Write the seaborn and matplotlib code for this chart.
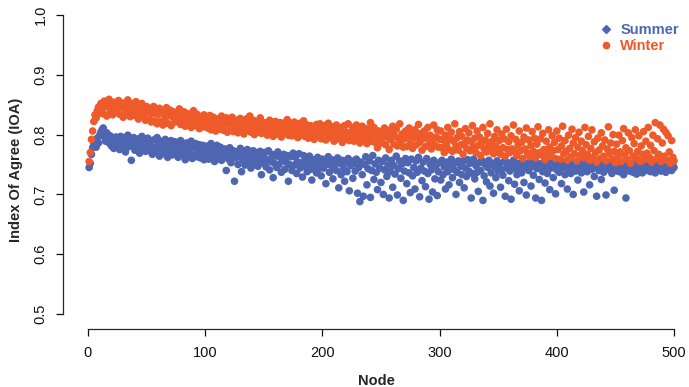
import numpy as np
import pandas as pd
import seaborn as sn
import matplotlib.pyplot as plt
from matplotlib.lines import Line2D

# index of agreement per node, in thousandths
summer_ioa = [
    745, 752, 767, 778, 784, 789, 779, 794, 786, 799, 804, 808, 811, 796, 789, 803, 792, 786, 798, 781, 793, 777, 790, 796, 780,
    792, 775, 797, 785, 778, 794, 771, 789, 799, 780, 791, 757, 783, 795, 774, 788, 779, 793, 769, 786, 797, 776, 790, 772, 784,
    794, 773, 787, 780, 767, 791, 778, 771, 795, 783, 764, 789, 775, 785, 768, 792, 779, 762, 784, 772, 790, 766, 779, 788, 770,
    784, 762, 778, 790, 767, 781, 772, 758, 786, 765, 777, 769, 789, 760, 779, 766, 785, 763, 773, 783, 761, 771, 782, 758, 776,
    766, 781, 759, 772, 785, 762, 775, 755, 770, 782, 760, 768, 779, 757, 771, 763, 776, 740, 767, 759, 778, 753, 765, 773, 722,
    761, 771, 750, 765, 777, 738, 758, 770, 749, 764, 775, 755, 767, 744, 762, 773, 750, 760, 770, 747, 758, 772, 733, 764, 752,
    770, 746, 758, 773, 741, 755, 767, 728, 752, 764, 745, 771, 750, 762, 737, 757, 767, 742, 754, 765, 722, 750, 763, 740, 769,
    749, 762, 735, 754, 768, 744, 753, 729, 765, 747, 760, 738, 752, 764, 742, 724, 758, 746, 755, 736, 762, 743, 752, 731, 759,
    744, 756, 718, 751, 763, 737, 749, 758, 726, 745, 755, 740, 761, 711, 752, 733, 757, 743, 722, 754, 738, 760, 706, 748, 756,
    727, 752, 739, 759, 702, 745, 688, 754, 733, 697, 750, 763, 716, 743, 756, 695, 740, 765, 725, 751, 737, 708, 757, 744, 720,
    755, 700, 741, 761, 730, 749, 694, 738, 757, 712, 748, 734, 764, 699, 743, 756, 727, 751, 690, 739, 760, 718, 753, 736, 703,
    759, 731, 745, 709, 756, 737, 762, 696, 744, 723, 754, 739, 713, 760, 735, 692, 750, 741, 704, 757, 726, 748, 698, 738, 753,
    724, 757, 733, 746, 709, 754, 738, 716, 749, 759, 728, 742, 753, 700, 737, 756, 720, 747, 733, 755, 711, 744, 730, 758, 739,
    752, 694, 735, 759, 726, 748, 737, 705, 753, 740, 757, 690, 731, 750, 721, 745, 757, 714, 736, 752, 702, 746, 728, 756, 739,
    751, 712, 742, 732, 755, 697, 744, 753, 723, 739, 692, 748, 757, 717, 743, 733, 752, 706, 746, 736, 756, 720, 745, 699, 751,
    740, 754, 714, 747, 732, 755, 694, 743, 752, 725, 748, 690, 738, 754, 719, 746, 735, 751, 708, 744, 756, 728, 747, 701, 741,
    752, 737, 749, 718, 745, 754, 733, 748, 709, 741, 751, 735, 747, 700, 752, 739, 749, 724, 745, 753, 736, 748, 704, 743, 751,
    738, 747, 716, 749, 742, 752, 730, 746, 697, 748, 740, 751, 725, 747, 737, 750, 699, 745, 752, 741, 748, 735, 747, 707, 740,
    749, 744, 738, 751, 743, 748, 733, 747, 694, 741, 750, 739, 746, 752, 737, 748, 743, 734, 747, 753, 741, 746, 736, 750, 744,
    740, 749, 745, 752, 738, 747, 743, 750, 736, 746, 749, 741, 752, 739, 748, 744, 750, 737, 746, 749, 741, 752, 740, 748, 745,
]

winter_ioa = [
    755, 770, 792, 806, 822, 833, 828, 840, 846, 836, 852, 843, 835, 856, 847, 831, 851, 859, 838, 849, 833, 854, 842, 850, 837,
    857, 834, 846, 853, 829, 844, 851, 838, 858, 845, 830, 852, 840, 848, 832, 855, 843, 826, 849, 836, 852, 831, 845, 824, 847,
    838, 826, 843, 821, 835, 847, 823, 839, 818, 834, 844, 822, 836, 816, 840, 827, 845, 819, 833, 841, 815, 830, 838, 821, 835,
    824, 834, 843, 817, 829, 820, 838, 814, 827, 835, 818, 831, 812, 826, 840, 815, 828, 834, 819, 810, 830, 822, 813, 833, 817,
    827, 811, 822, 832, 808, 820, 829, 814, 806, 826, 816, 823, 809, 831, 818, 807, 819, 828, 804, 817, 825, 810, 829, 805, 818,
    814, 824, 803, 817, 827, 808, 821, 801, 815, 826, 807, 819, 831, 804, 814, 824, 800, 812, 822, 806, 816, 828, 802, 811, 820,
    809, 819, 799, 812, 824, 804, 815, 797, 810, 822, 801, 813, 806, 820, 796, 809, 819, 803, 814, 825, 799, 808, 818, 798, 811,
    821, 801, 812, 795, 807, 819, 800, 810, 823, 797, 806, 816, 794, 805, 815, 799, 811, 792, 804, 817, 797, 808, 818, 793, 806,
    803, 815, 791, 805, 819, 795, 808, 799, 813, 789, 802, 816, 793, 806, 798, 812, 787, 801, 815, 792, 804, 818, 790, 803, 795,
    812, 789, 801, 816, 791, 805, 786, 799, 814, 790, 803, 810, 785, 797, 808, 820, 789, 800, 812, 787, 799, 778, 806, 793, 803,
    786, 798, 811, 783, 796, 807, 775, 792, 804, 814, 784, 797, 809, 781, 794, 818, 788, 801, 779, 793, 806, 780, 796, 811, 785,
    801, 777, 795, 808, 783, 797, 817, 787, 802, 774, 793, 806, 780, 795, 812, 784, 799, 776, 790, 816, 782, 796, 808, 779, 792,
    806, 778, 791, 770, 799, 784, 812, 775, 793, 804, 772, 789, 818, 780, 795, 774, 805, 783, 797, 767, 785, 810, 777, 791, 803,
    773, 788, 815, 779, 794, 770, 806, 782, 796, 765, 787, 812, 776, 791, 771, 802, 781, 818, 774, 789, 768, 797, 780, 808, 775,
    790, 767, 801, 778, 793, 764, 809, 775, 788, 770, 798, 776, 816, 772, 792, 765, 783, 806, 773, 787, 760, 796, 776, 811, 769,
    791, 763, 782, 805, 772, 794, 761, 784, 813, 770, 793, 766, 802, 775, 758, 789, 769, 808, 779, 764, 798, 773, 787, 760, 806,
    775, 794, 759, 781, 814, 768, 790, 772, 757, 799, 777, 763, 809, 786, 768, 795, 756, 779, 804, 765, 789, 773, 761, 812, 783,
    767, 797, 757, 777, 808, 762, 788, 770, 754, 794, 774, 760, 803, 781, 764, 791, 756, 776, 813, 768, 786, 759, 800, 772, 753,
    784, 763, 799, 771, 755, 790, 810, 766, 778, 758, 803, 773, 752, 795, 764, 785, 808, 760, 772, 798, 755, 781, 767, 805, 758,
    789, 769, 812, 762, 782, 754, 799, 773, 820, 760, 793, 767, 816, 755, 786, 809, 764, 804, 757, 798, 771, 752, 790, 762, 756,
]

seasons = ["Summer", "Winter"]
colors = {"Summer": "#4E66B2", "Winter": "#EE5A2A"}

nodes = np.arange(1, len(summer_ioa) + 1)
df = pd.concat([
    pd.DataFrame({"Node": nodes, "IOA": np.array(summer_ioa) / 1000, "Season": "Summer"}),
    pd.DataFrame({"Node": nodes, "IOA": np.array(winter_ioa) / 1000, "Season": "Winter"}),
])

sn.set_style("ticks")
plt.rcParams["font.family"] = ["Liberation Sans", "DejaVu Sans"]

fig = plt.figure(figsize=(6.89, 3.87), dpi=100)
ax = fig.add_axes([63 / 689, 58 / 387, 1 - 63 / 689, 319 / 387])

sn.scatterplot(data=df, x="Node", y="IOA", hue="Season", hue_order=seasons,
               palette=colors, s=30, linewidth=0, alpha=1, legend=False, ax=ax)

ax.set_xlim(-21.3, 512.8)
ax.set_ylim(0.475, 1.0083)
ax.set_xticks([0, 100, 200, 300, 400, 500])
ax.set_yticks([0.5, 0.6, 0.7, 0.8, 0.9, 1.0])
ax.set_yticklabels(["0.5", "0.6", "0.7", "0.8", "0.9", "1.0"], rotation=90, va="center")
ax.spines["top"].set_visible(False)
ax.spines["right"].set_visible(False)
ax.spines["left"].set_bounds(0.5, 1.0)
ax.spines["bottom"].set_bounds(0, 500)
ax.tick_params(axis="both", labelsize=10.5, length=5, width=0.9, colors="#111111")
ax.tick_params(axis="x", pad=7)
ax.tick_params(axis="y", pad=6)
for sp in ["left", "bottom"]:
    ax.spines[sp].set_linewidth(0.9)

ax.set_xlabel("Node", fontsize=10.5, fontweight="bold", labelpad=10)
ax.set_ylabel("Index Of Agree (IOA)", fontsize=10.5, fontweight="bold", labelpad=8)

handles = [
    Line2D([], [], marker="D", ls="", color=colors["Summer"], markersize=4.5),
    Line2D([], [], marker="o", ls="", color=colors["Winter"], markersize=4.5),
]
leg = ax.legend(handles, seasons, loc="upper right", bbox_to_anchor=(1.0, 0.99), frameon=False,
                handlelength=0.8, handletextpad=0.6, labelspacing=0.1, borderaxespad=0.3,
                prop={"weight": "bold", "size": 10.5})
for txt, s in zip(leg.get_texts(), seasons):
    txt.set_color(colors[s])

fig.savefig("out.png", dpi=100)
